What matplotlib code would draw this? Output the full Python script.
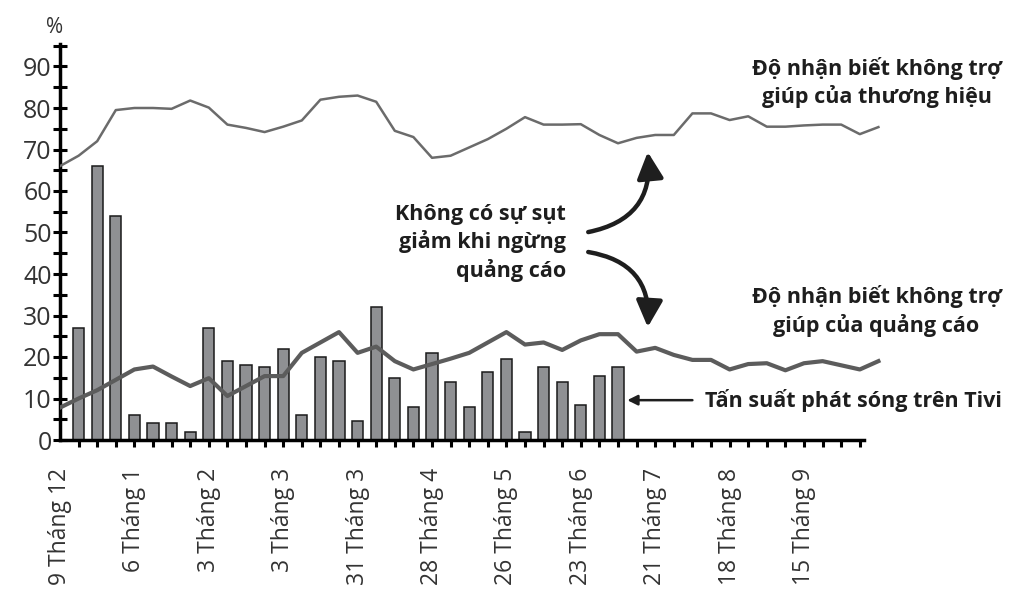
#!/usr/bin/env python

import matplotlib
matplotlib.use('Agg')
import matplotlib.pyplot as plt
from matplotlib.patches import FancyArrowPatch

plt.rcParams['font.family'] = ['Open Sans', 'DejaVu Sans']

# weekly TV airing frequency (weeks 1..30)
tv_weeks = list(range(1, 31))
tv_airing = [27, 66, 54, 6, 4, 4, 2, 27, 19, 18, 17.5, 22, 6, 20, 19,
             4.5, 32, 15, 8, 21, 14, 8, 16.5, 19.5, 2, 17.5, 14, 8.5, 15.5, 17.5]

# unaided awareness, weeks 0..44
weeks = list(range(0, 45))
brand_awareness = [66, 68.5, 72, 79.5, 80, 80, 79.8, 81.8, 80.1, 76,
                   75.2, 74.2, 75.5, 77, 82, 82.7, 83, 81.5, 74.5, 73,
                   68, 68.5, 70.5, 72.5, 75, 77.8, 76, 76, 76.1, 73.5,
                   71.5, 72.8, 73.5, 73.5, 78.7, 78.7, 77.1, 78, 75.5, 75.5,
                   75.8, 76, 76, 73.7, 75.4]
ad_awareness = [7.8, 10, 12, 14.5, 17, 17.7, 15.3, 13, 14.9, 10.6,
                13, 15.4, 15.4, 21, 23.5, 26, 21, 22.5, 19, 17,
                18.3, 19.6, 21, 23.5, 26, 23, 23.5, 21.7, 24, 25.5,
                25.5, 21.3, 22.2, 20.5, 19.3, 19.3, 17, 18.3, 18.5, 16.8,
                18.5, 19, 18, 17, 19]

date_pos = [0, 4, 8, 12, 16, 20, 24, 28, 32, 36, 40]
date_labels = ['9 Tháng 12', '6 Tháng 1', '3 Tháng 2', '3 Tháng 3', '31 Tháng 3',
               '28 Tháng 4', '26 Tháng 5', '23 Tháng 6', '21 Tháng 7',
               '18 Tháng 8', '15 Tháng 9']

fig = plt.figure(figsize=(10.31, 5.96), dpi=100)
ax = fig.add_axes([60 / 1031, 156 / 596, 971 / 1031, 440 / 596])
ax.set_xlim(0, 971 / 18.6)
ax.set_ylim(0, 440 / 4.15)

ax.bar(tv_weeks, tv_airing, width=0.6, color='#8f9093',
       edgecolor='#1a1a1a', linewidth=1.1, zorder=2)
ax.plot(weeks, brand_awareness, color='#6b6b6b', lw=1.8, zorder=3)
ax.plot(weeks, ad_awareness, color='#5c5c5c', lw=3.0, zorder=3)

for side in ('top', 'right'):
    ax.spines[side].set_visible(False)
ax.spines['left'].set_linewidth(2.5)
ax.spines['bottom'].set_linewidth(2.5)
ax.spines['left'].set_bounds(0, 95.5)
ax.spines['bottom'].set_bounds(0, 43.2)

ax.set_yticks(range(0, 100, 5))
ax.set_yticklabels([str(v) if v % 10 == 0 else '' for v in range(0, 100, 5)],
                   fontsize=18, color='#333333')
ax.tick_params(axis='y', direction='inout', length=10, width=2.2, pad=1)

# week ticks, plus date labels every 4 weeks
ax.xaxis.remove_overlapping_locs = False
ax.set_xticks(range(1, 44))
ax.set_xticklabels([])
ax.tick_params(axis='x', which='major', direction='out', length=5, width=2.2)
ax.set_xticks(date_pos, minor=True)
ax.set_xticklabels(date_labels, minor=True, rotation=90, fontsize=16.5,
                   color='#333333')
ax.tick_params(axis='x', which='minor', length=0, pad=20)

ax.text(-0.3, 99.5, '%', fontsize=15, ha='center', va='center',
        color='#333333', clip_on=False)

bold = dict(fontweight='bold', fontsize=15.5, color='#1e1e1e', linespacing=1.3)
ax.text(27.2, 47.5, 'Không có sự sụt\ngiảm khi ngừng\nquảng cáo',
        ha='right', va='center', multialignment='right', **bold)
ax.text(43.9, 86.1, 'Độ nhận biết không trợ\ngiúp của thương hiệu',
        ha='center', va='center', multialignment='center', **bold)
ax.text(43.9, 31.1, 'Độ nhận biết không trợ\ngiúp của quảng cáo',
        ha='center', va='center', multialignment='center', **bold)
ax.text(34.7, 9.6, 'Tấn suất phát sóng trên Tivi', ha='left', va='center',
        **{k: v for k, v in bold.items() if k != 'linespacing'})

ax.annotate('', xy=(30.5, 9.6), xytext=(34.0, 9.6),
            arrowprops=dict(arrowstyle='-|>,head_length=0.6,head_width=0.3',
                            color='#1e1e1e', lw=1.8, shrinkA=0, shrinkB=0))

up = FancyArrowPatch((28.4, 50.1), (31.6, 69.4),
                     connectionstyle='arc3,rad=0.45',
                     arrowstyle='-|>,head_length=16,head_width=8',
                     color='#1e1e1e', lw=3.2, shrinkA=0, shrinkB=0)
down = FancyArrowPatch((28.4, 45.3), (31.6, 27.2),
                       connectionstyle='arc3,rad=-0.45',
                       arrowstyle='-|>,head_length=16,head_width=8',
                       color='#1e1e1e', lw=3.2, shrinkA=0, shrinkB=0)
ax.add_patch(up)
ax.add_patch(down)

plt.savefig('out.png', dpi=100)
